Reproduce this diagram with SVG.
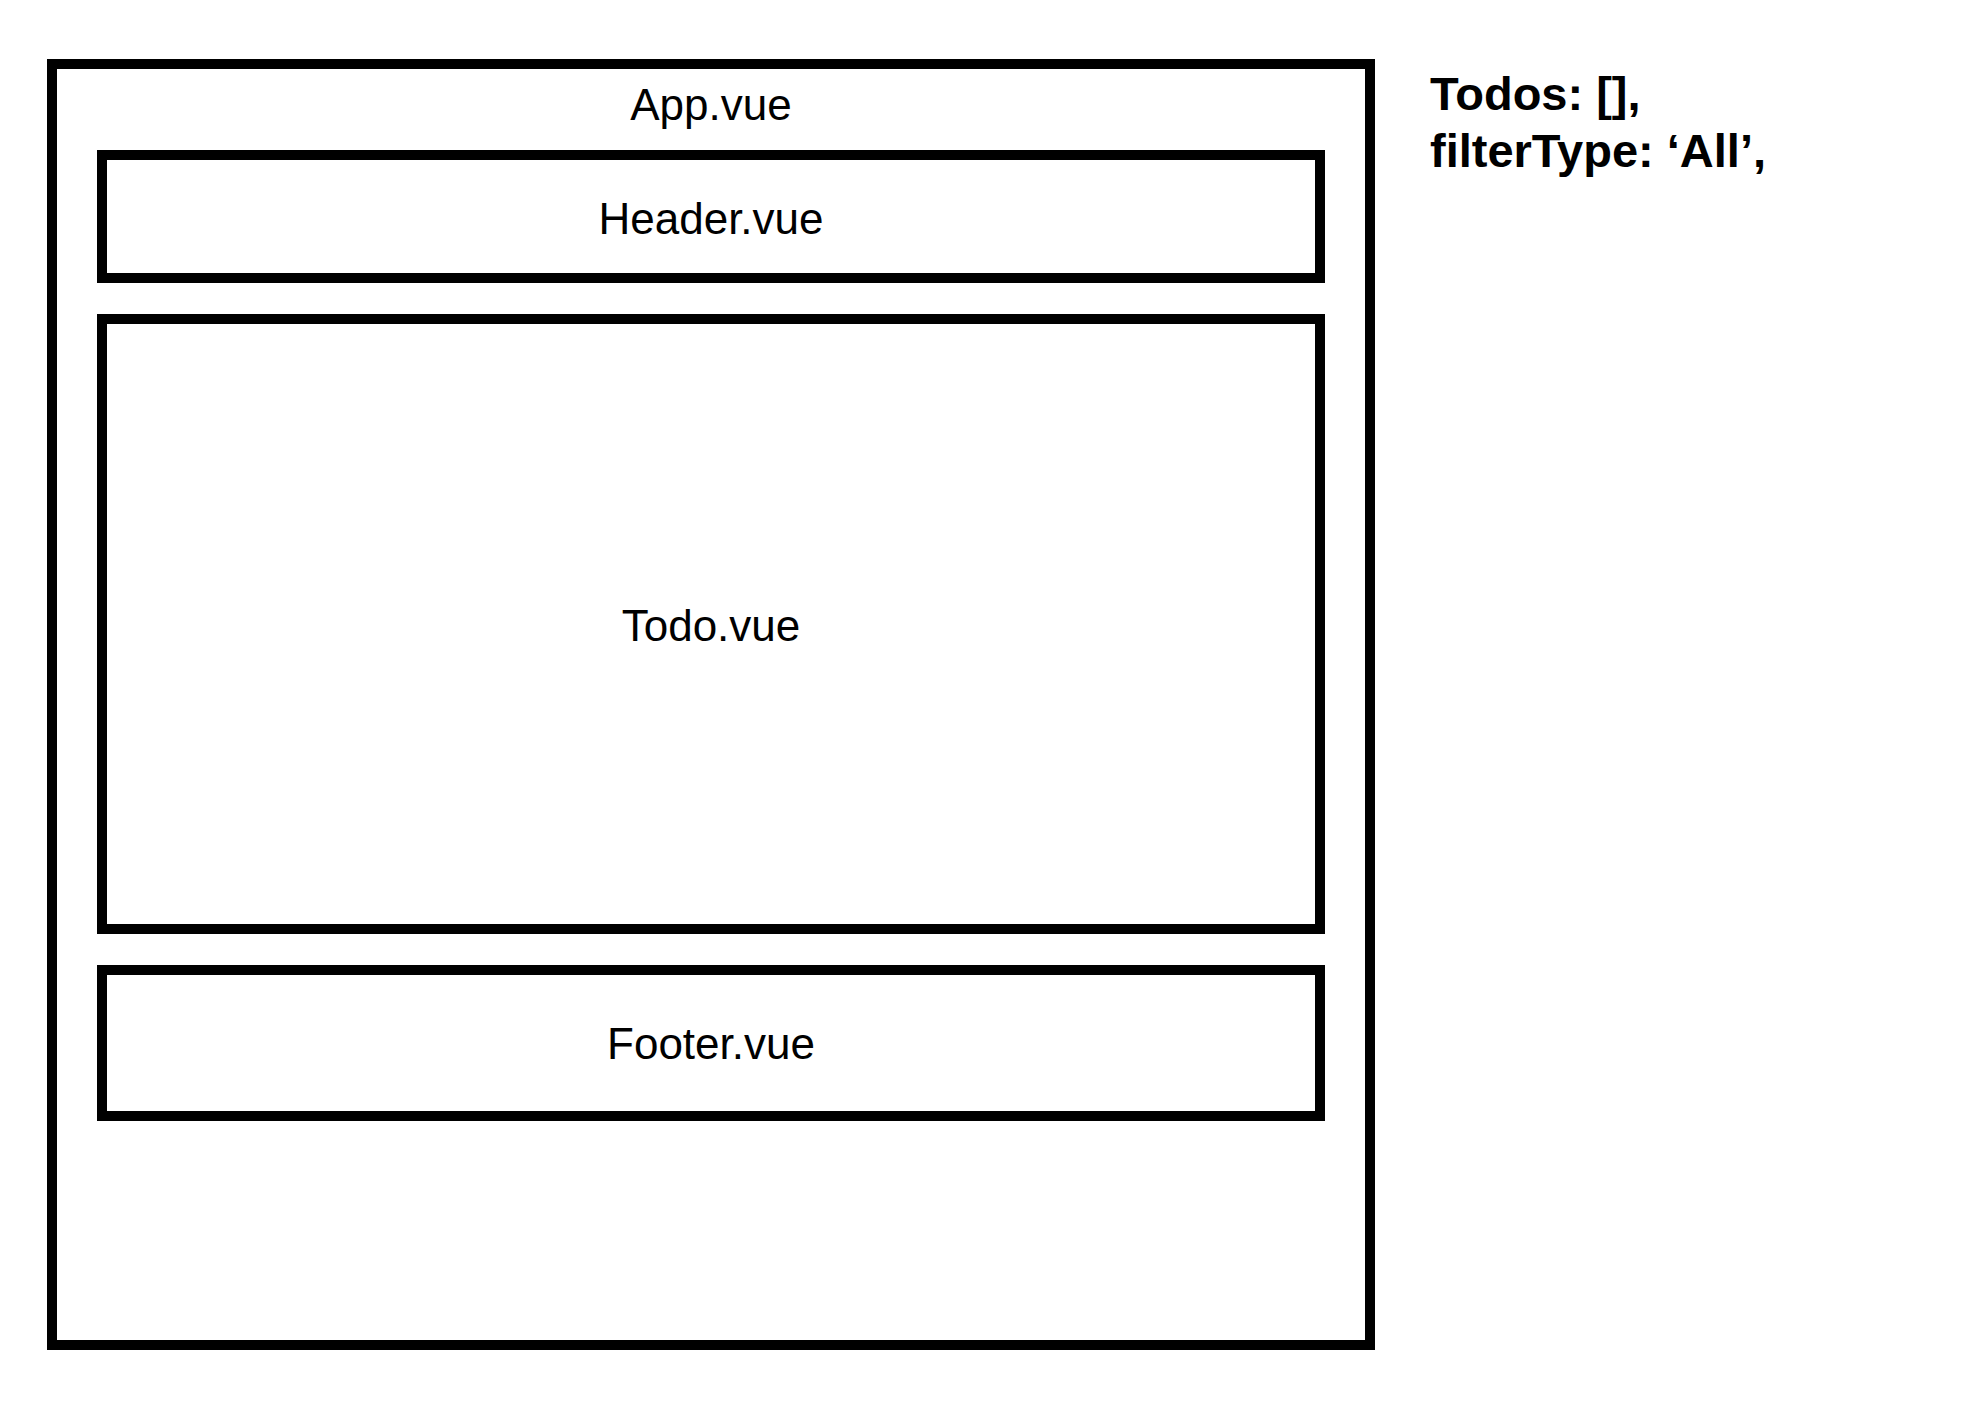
<svg xmlns="http://www.w3.org/2000/svg" width="1978" height="1420" viewBox="0 0 1978 1420">
<style>
.box{fill:none;stroke:#000;stroke-width:10}
.lbl{font-family:"Liberation Sans",Arial,sans-serif;font-size:44px;fill:#000;text-anchor:middle}
.state{font-family:"Liberation Sans",Arial,sans-serif;font-size:47px;font-weight:bold;fill:#000}
</style>
<rect width="1978" height="1420" fill="#fff"/>
<g id="app">
<rect class="box" x="52" y="64" width="1318" height="1281"/>
<text class="lbl" x="711" y="120">App.vue</text>
</g>
<g id="header">
<rect class="box" x="102" y="155" width="1218" height="123"/>
<text class="lbl" x="711" y="234">Header.vue</text>
</g>
<g id="todo">
<rect class="box" x="102" y="319" width="1218" height="610"/>
<text class="lbl" x="711" y="641">Todo.vue</text>
</g>
<g id="footer">
<rect class="box" x="102" y="970" width="1218" height="146"/>
<text class="lbl" x="711" y="1059">Footer.vue</text>
</g>
<g id="state">
<text class="state" x="1430" y="110">Todos: [],</text>
<text class="state" x="1430" y="167">filterType: ‘All’,</text>
</g>
<g id="connectors"/>
</svg>
